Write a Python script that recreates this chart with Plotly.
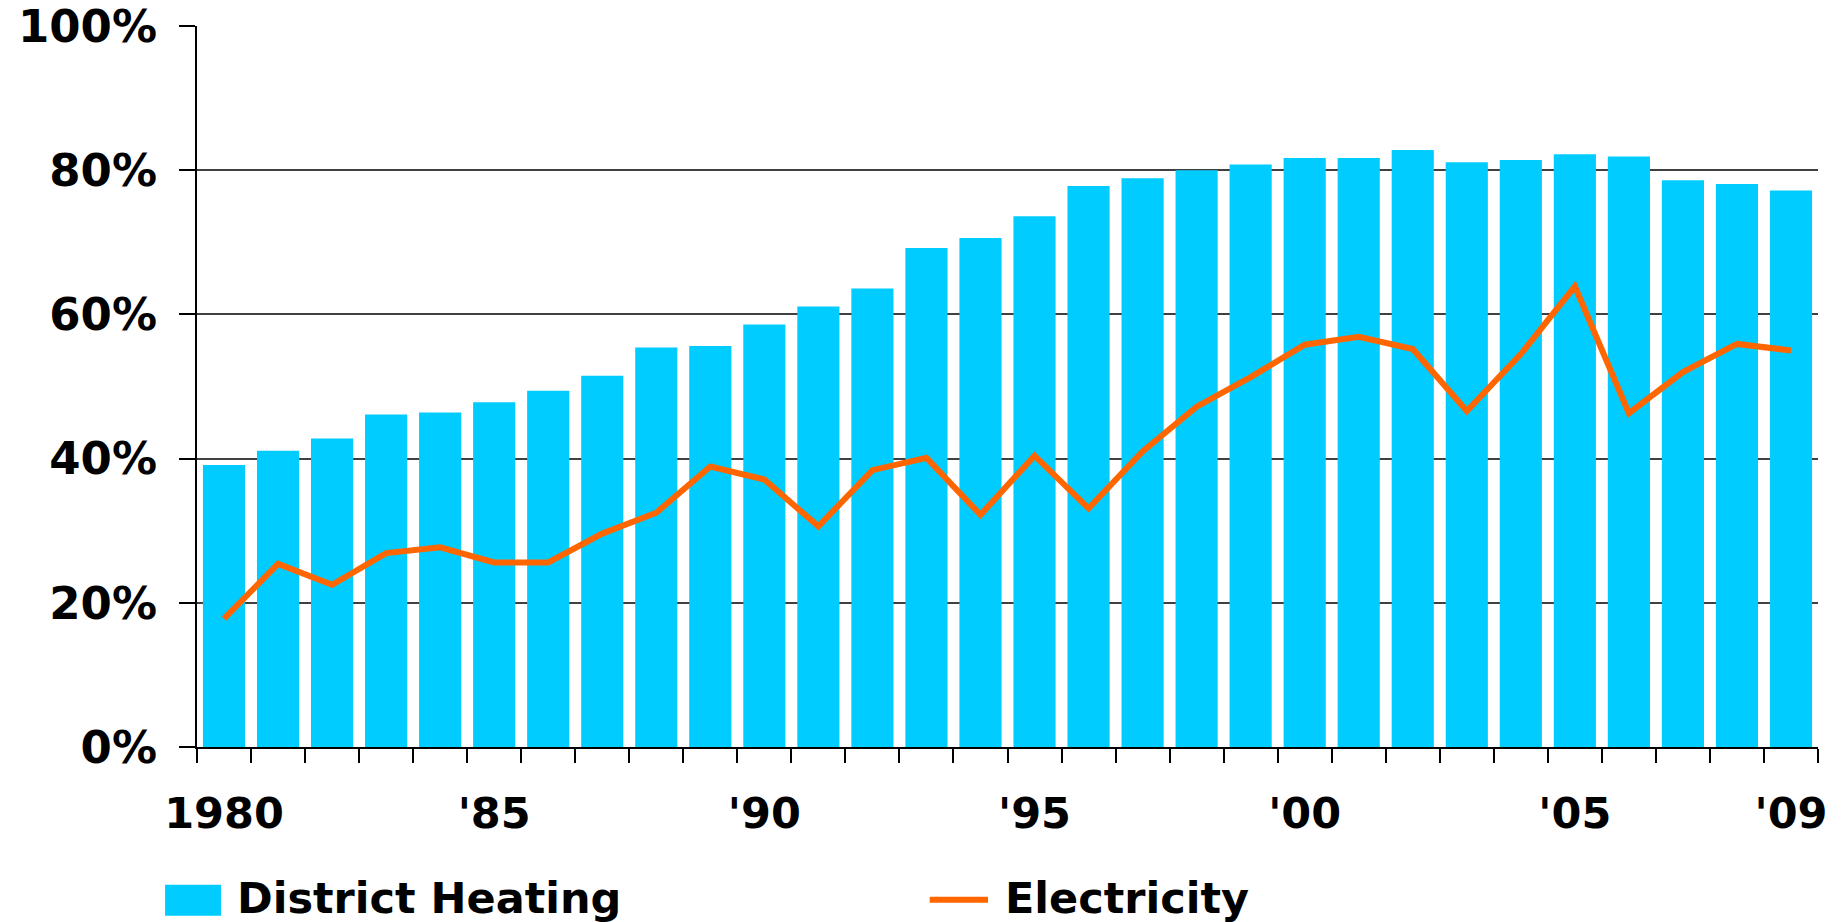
import plotly.graph_objects as go

years = list(range(1980, 2010))
district_heating = [39.1, 41.1, 42.8, 46.1, 46.4, 47.8, 49.4, 51.5, 55.4, 55.6,
                    58.6, 61.1, 63.6, 69.2, 70.6, 73.6, 77.8, 78.9, 80.0, 80.8,
                    81.7, 81.7, 82.8, 81.1, 81.4, 82.2, 81.9, 78.6, 78.1, 77.2]
electricity = [17.8, 25.4, 22.5, 26.9, 27.7, 25.6, 25.6, 29.6, 32.5, 38.9,
               37.1, 30.6, 38.4, 40.1, 32.2, 40.4, 33.1, 41.0, 47.2, 51.3,
               55.8, 56.9, 55.2, 46.6, 54.5, 63.9, 46.3, 52.0, 55.9, 55.0]
x_tick_vals = [1980, 1985, 1990, 1995, 2000, 2005, 2009]
x_tick_text = ["1980", "'85", "'90", "'95", "'00", "'05", "'09"]
y_tick_vals = [0, 20, 40, 60, 80, 100]
y_tick_text = ["0%", "20%", "40%", "60%", "80%", "100%"]
series_names = ["District Heating", "Electricity"]

BAR_COLOR = "#00CCFF"
LINE_COLOR = "#FF6600"
FONT = dict(family="DejaVu Sans, Verdana, sans-serif", size=43, color="black", weight="bold")
YFONT = dict(FONT, size=45)

boundaries = [y - 0.5 for y in years] + [years[-1] + 0.5]

fig = go.Figure()
fig.add_trace(go.Bar(x=years, y=district_heating, name=series_names[0],
                     marker=dict(color=BAR_COLOR, line=dict(width=0)),
                     showlegend=False))
fig.add_trace(go.Scatter(x=years, y=electricity, name=series_names[1], mode="lines",
                         line=dict(color=LINE_COLOR, width=6),
                         showlegend=False))

fig.update_layout(
    width=1845, height=922,
    margin=dict(l=197, r=27, t=26, b=175, autoexpand=False),
    paper_bgcolor="white", plot_bgcolor="white",
    bargap=0.22,
    font=FONT,
    xaxis=dict(
        range=[boundaries[0], boundaries[-1]],
        tickmode="array", tickvals=x_tick_vals, ticktext=x_tick_text,
        ticks="", showgrid=False, zeroline=False, automargin=False,
        showline=True, linecolor="black", linewidth=2,
        tickfont=FONT, ticklabelstandoff=27, ticklabeloverflow="allow",
        minor=dict(tickmode="array", tickvals=boundaries, ticks="outside",
                   ticklen=14, tickwidth=2, tickcolor="black", showgrid=False),
    ),
    yaxis=dict(
        range=[0, 100], tickmode="array", tickvals=y_tick_vals, ticktext=y_tick_text,
        ticks="outside", ticklen=16, tickwidth=2, tickcolor="black",
        showgrid=True, gridcolor="#404040", gridwidth=1.5, zeroline=False,
        showline=True, linecolor="black", linewidth=2, automargin=False,
        tickfont=YFONT, ticklabelstandoff=13, ticklabeloverflow="allow",
    ),
)

# legend drawn at the bottom
fig.add_shape(type="rect", xref="paper", yref="paper",
              x0=-0.0197, x1=0.0148, y0=-0.234, y1=-0.191,
              fillcolor=BAR_COLOR, line=dict(width=0))
fig.add_annotation(xref="paper", yref="paper", x=0.0234, y=-0.21,
                   xanchor="left", yanchor="middle", text=series_names[0],
                   showarrow=False, font=FONT)
fig.add_shape(type="line", xref="paper", yref="paper",
              x0=0.452, x1=0.488, y0=-0.212, y1=-0.212,
              line=dict(color=LINE_COLOR, width=6))
fig.add_annotation(xref="paper", yref="paper", x=0.497, y=-0.21,
                   xanchor="left", yanchor="middle", text=series_names[1],
                   showarrow=False, font=FONT)

fig.write_html("out.html", config={"displayModeBar": False},
               post_script="document.body.style.margin='0';document.body.style.overflow='hidden';")
